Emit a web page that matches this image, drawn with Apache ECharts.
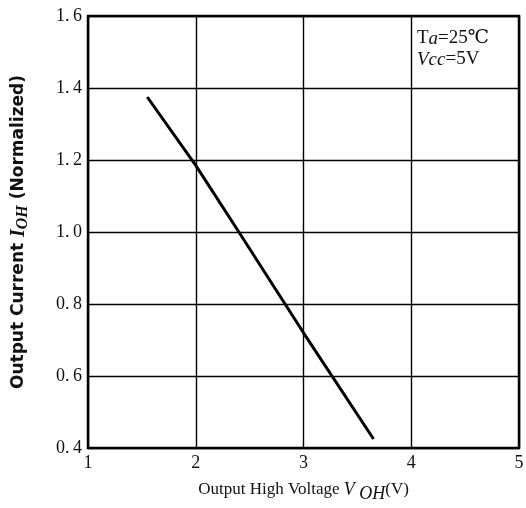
<!DOCTYPE html>
<html>
<head>
<meta charset="utf-8">
<script src="https://cdn.jsdelivr.net/npm/echarts@6/dist/echarts.min.js"></script>
<style>
  html, body { margin: 0; padding: 0; background: #fff; }
  #chart { width: 526px; height: 508px; }
</style>
</head>
<body>
<div id="chart"></div>
<script>
// Output high voltage (V) vs normalized output current
const voh = [1.55, 2.0, 2.4, 3.0, 3.65];
const ioh = [1.375, 1.185, 1.0, 0.72, 0.425];

const serif = '"Liberation Serif", "DejaVu Serif", serif';
const chart = echarts.init(document.getElementById('chart'));

const option = {
  backgroundColor: '#fff',
  animation: false,
  grid: {
    left: 88, right: 7, top: 16, bottom: 60,
    outerBoundsMode: 'none', containLabel: false,
    show: true, borderColor: '#000', borderWidth: 2.5
  },
  xAxis: {
    type: 'value', min: 1, max: 5, interval: 1,
    axisLine: { show: false },
    axisTick: { show: false },
    splitLine: { lineStyle: { color: '#000', width: 1.4 } },
    axisLabel: { color: '#111', fontFamily: serif, fontSize: 18, margin: 6 },
    name: '{n|Output High Voltage }{i|V}{s| OH}{n|(V)}',
    nameLocation: 'middle', nameGap: 29,
    nameTextStyle: {
      rich: {
        n: { fontFamily: serif, fontSize: 17, color: '#111' },
        i: { fontFamily: serif, fontSize: 18, fontStyle: 'italic', color: '#111' },
        s: { fontFamily: serif, fontSize: 18, fontStyle: 'italic', color: '#111', padding: [8, 0, 0, 0] }
      }
    }
  },
  yAxis: {
    type: 'value', min: 0.4, max: 1.6, interval: 0.2,
    axisLine: { show: false },
    axisTick: { show: false },
    splitLine: { lineStyle: { color: '#000', width: 1.4 } },
    axisLabel: {
      color: '#111', fontFamily: serif, fontSize: 18, margin: 6,
      formatter: v => v.toFixed(1).replace('.', '.\u2009')
    },
    name: '{b|Output Current }{i|I}{s|OH}{b| (Normalized)}',
    nameLocation: 'middle', nameGap: 57, nameRotate: 90,
    nameTextStyle: {
      rich: {
        b: { fontFamily: '"DejaVu Sans", sans-serif', fontWeight: 'bold', fontSize: 17, color: '#111' },
        i: { fontFamily: serif, fontWeight: 'bold', fontStyle: 'italic', fontSize: 20, color: '#111' },
        s: { fontFamily: serif, fontWeight: 'bold', fontStyle: 'italic', fontSize: 16, color: '#111', padding: [8, 0, 0, 0] }
      }
    }
  },
  graphic: [{
    type: 'text', left: 417, top: 29,
    style: {
      text: '{n|T}{i|a}{n|=25℃}\n{i|Vcc}{n|=5V}',
      rich: {
        n: { fontFamily: serif, fontSize: 19, fill: '#111', lineHeight: 21 },
        i: { fontFamily: serif, fontSize: 19, fontStyle: 'italic', fill: '#111', lineHeight: 21 }
      }
    }
  }],
  series: [{
    type: 'line',
    data: voh.map((x, i) => [x, ioh[i]]),
    showSymbol: false,
    lineStyle: { color: '#000', width: 3 }
  }]
};
chart.setOption(option);
</script>
</body>
</html>
